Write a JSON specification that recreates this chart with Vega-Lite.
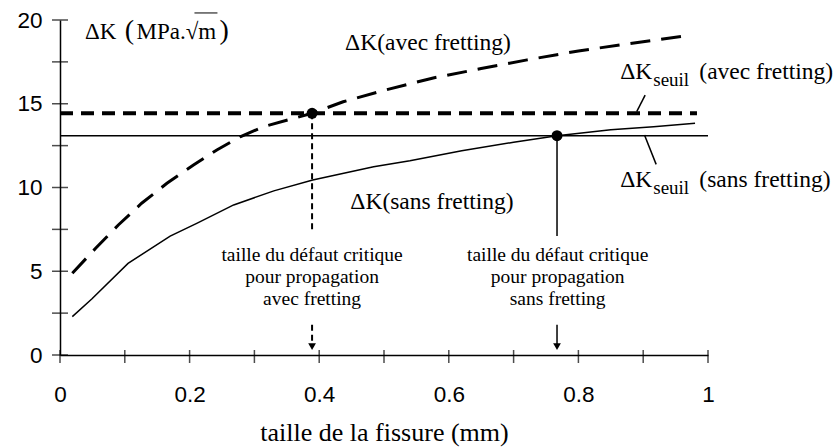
{
  "$schema": "https://vega.github.io/schema/vega-lite/v6.json",
  "width": 648,
  "height": 335,
  "autosize": {"type": "none"},
  "padding": {"left": 60, "top": 20, "right": 126, "bottom": 93},
  "background": "white",
  "config": {"view": {"stroke": null}},
  "datasets": {
    "avec": [
      {"x": 0.019, "y": 4.88}, {"x": 0.055, "y": 6.37}, {"x": 0.09, "y": 7.76}, {"x": 0.126, "y": 9.06},
      {"x": 0.165, "y": 10.25}, {"x": 0.206, "y": 11.34}, {"x": 0.242, "y": 12.24}, {"x": 0.278, "y": 13.03},
      {"x": 0.314, "y": 13.63}, {"x": 0.389, "y": 14.43}, {"x": 0.437, "y": 15.12}, {"x": 0.5, "y": 15.8},
      {"x": 0.576, "y": 16.54}, {"x": 0.65, "y": 17.1}, {"x": 0.721, "y": 17.62}, {"x": 0.8, "y": 18.15},
      {"x": 0.88, "y": 18.6}, {"x": 0.962, "y": 19.04}
    ],
    "sans": [
      {"x": 0.019, "y": 2.29}, {"x": 0.049, "y": 3.34}, {"x": 0.105, "y": 5.47}, {"x": 0.17, "y": 7.1},
      {"x": 0.211, "y": 7.86}, {"x": 0.268, "y": 8.96}, {"x": 0.33, "y": 9.8}, {"x": 0.39, "y": 10.45},
      {"x": 0.484, "y": 11.24}, {"x": 0.54, "y": 11.6}, {"x": 0.62, "y": 12.2}, {"x": 0.7, "y": 12.7},
      {"x": 0.767, "y": 13.09}, {"x": 0.85, "y": 13.45}, {"x": 0.916, "y": 13.63}, {"x": 0.98, "y": 13.83}
    ],
    "seuilAvec": [{"x": 0, "x2": 0.983, "y": 14.43}],
    "seuilSans": [{"x": 0, "x2": 1.0, "y": 13.09}],
    "vDashed": [{"x": 0.389, "y": 14.43, "y2": 7.5}, {"x": 0.389, "y": 1.8, "y2": 0.6}],
    "vSolid": [{"x": 0.767, "y": 13.09, "y2": 7.1}, {"x": 0.767, "y": 1.8, "y2": 0.6}],
    "leaders": [{"x": 0.903, "y": 15.52, "x2": 0.89, "y2": 14.53}, {"x": 0.902, "y": 13.13, "x2": 0.92, "y2": 11.38}],
    "overline": [{"x": 0.2075, "x2": 0.243, "y": 20.42}],
    "dots": [{"x": 0.389, "y": 14.43}, {"x": 0.767, "y": 13.09}],
    "arrows": [{"x": 0.389, "y": 0.5}, {"x": 0.767, "y": 0.5}],
    "xticks": [
      {"x": 0, "y": 0}, {"x": 0.1, "y": 0}, {"x": 0.2, "y": 0}, {"x": 0.3, "y": 0}, {"x": 0.4, "y": 0}, {"x": 0.5, "y": 0},
      {"x": 0.6, "y": 0}, {"x": 0.7, "y": 0}, {"x": 0.8, "y": 0}, {"x": 0.9, "y": 0}, {"x": 1, "y": 0}
    ],
    "yticks": [
      {"x": 0, "y": 0}, {"x": 0, "y": 2.5}, {"x": 0, "y": 5}, {"x": 0, "y": 7.5}, {"x": 0, "y": 10},
      {"x": 0, "y": 12.5}, {"x": 0, "y": 15}, {"x": 0, "y": 17.5}, {"x": 0, "y": 20}
    ],
    "bigText": [
      {"x": 0.44, "y": 18.63, "text": "ΔK(avec fretting)"},
      {"x": 0.448, "y": 9.15, "text": "ΔK(sans fretting)"},
      {"x": 0.8646, "y": 16.91, "text": "ΔK"},
      {"x": 0.9866, "y": 16.91, "text": "(avec fretting)"},
      {"x": 0.8646, "y": 10.45, "text": "ΔK"},
      {"x": 0.9866, "y": 10.45, "text": "(sans fretting)"}
    ],
    "subText": [
      {"x": 0.9155, "y": 16.42, "text": "seuil"},
      {"x": 0.9155, "y": 9.97, "text": "seuil"}
    ],
    "unitText": [
      {"x": 0.0386, "y": 19.28, "text": "ΔK"},
      {"x": 0.118, "y": 19.28, "text": "MPa.√m"}
    ],
    "parenText": [
      {"x": 0.1, "y": 19.34, "text": "("},
      {"x": 0.246, "y": 19.34, "text": ")"}
    ],
    "critText": [
      {"x": 0.389, "y": 5.97, "text": "taille du défaut critique"},
      {"x": 0.389, "y": 4.66, "text": "pour propagation"},
      {"x": 0.389, "y": 3.34, "text": "avec fretting"},
      {"x": 0.768, "y": 5.97, "text": "taille du défaut critique"},
      {"x": 0.768, "y": 4.66, "text": "pour propagation"},
      {"x": 0.768, "y": 3.34, "text": "sans fretting"}
    ]
  },
  "encoding": {
    "x": {
      "field": "x", "type": "quantitative",
      "scale": {"domain": [0, 1], "nice": false, "zero": false},
      "axis": {
        "values": [0, 0.2, 0.4, 0.6, 0.8, 1], "format": "~g", "ticks": false, "tickSize": 0, "grid": false,
        "domainColor": "black", "domainWidth": 1.5, "labelFont": "Arial", "labelFontSize": 22.5,
        "labelColor": "black", "labelPadding": 28, "labelFlush": false, "labelOverlap": false,
        "title": "taille de la fissure (mm)", "titleFont": "Times New Roman", "titleFontSize": 26,
        "titleFontWeight": "normal", "titleColor": "black", "titlePadding": 14
      }
    },
    "y": {
      "field": "y", "type": "quantitative",
      "scale": {"domain": [0, 20], "nice": false, "zero": false},
      "axis": {
        "values": [0, 5, 10, 15, 20], "format": "d", "ticks": false, "tickSize": 0, "grid": false,
        "domainColor": "black", "domainWidth": 1.5, "labelFont": "Arial", "labelFontSize": 22.5,
        "labelColor": "black", "labelPadding": 18, "labelFlush": false, "labelOverlap": false, "title": null
      }
    }
  },
  "layer": [
    {"data": {"name": "xticks"}, "mark": {"type": "tick", "orient": "vertical", "color": "black", "size": 13, "thickness": 1.5, "yOffset": 1.5}, "encoding": {}},
    {"data": {"name": "yticks"}, "mark": {"type": "tick", "orient": "horizontal", "color": "black", "size": 16, "thickness": 1.5}, "encoding": {}},
    {"data": {"name": "seuilSans"}, "mark": {"type": "rule", "color": "black", "strokeWidth": 1.5}, "encoding": {"x2": {"field": "x2"}}},
    {"data": {"name": "seuilAvec"}, "mark": {"type": "rule", "color": "black", "strokeWidth": 4, "strokeDash": [13, 8]}, "encoding": {"x2": {"field": "x2"}}},
    {"data": {"name": "sans"}, "mark": {"type": "line", "color": "black", "strokeWidth": 1.5}, "encoding": {}},
    {"data": {"name": "avec"}, "mark": {"type": "line", "color": "black", "strokeWidth": 3, "strokeDash": [20, 11]}, "encoding": {}},
    {"data": {"name": "vDashed"}, "mark": {"type": "rule", "color": "black", "strokeWidth": 2, "strokeDash": [6, 4]}, "encoding": {"y2": {"field": "y2"}}},
    {"data": {"name": "vSolid"}, "mark": {"type": "rule", "color": "black", "strokeWidth": 1.5}, "encoding": {"y2": {"field": "y2"}}},
    {"data": {"name": "leaders"}, "mark": {"type": "rule", "color": "black", "strokeWidth": 1.5}, "encoding": {"x2": {"field": "x2"}, "y2": {"field": "y2"}}},
    {"data": {"name": "overline"}, "mark": {"type": "rule", "color": "black", "strokeWidth": 1}, "encoding": {"x2": {"field": "x2"}}},
    {"data": {"name": "dots"}, "mark": {"type": "point", "filled": true, "color": "black", "opacity": 1, "size": 120, "shape": "circle"}, "encoding": {}},
    {"data": {"name": "arrows"}, "mark": {"type": "point", "filled": true, "color": "black", "opacity": 1, "size": 60, "shape": "triangle-down"}, "encoding": {}},
    {"data": {"name": "bigText"}, "mark": {"type": "text", "align": "left", "baseline": "middle", "font": "Times New Roman", "fontSize": 23.5, "color": "black"}, "encoding": {"text": {"field": "text"}}},
    {"data": {"name": "subText"}, "mark": {"type": "text", "align": "left", "baseline": "middle", "font": "Times New Roman", "fontSize": 19, "color": "black"}, "encoding": {"text": {"field": "text"}}},
    {"data": {"name": "unitText"}, "mark": {"type": "text", "align": "left", "baseline": "middle", "font": "Times New Roman", "fontSize": 23, "color": "black"}, "encoding": {"text": {"field": "text"}}},
    {"data": {"name": "parenText"}, "mark": {"type": "text", "align": "left", "baseline": "middle", "font": "Times New Roman", "fontSize": 28, "color": "black"}, "encoding": {"text": {"field": "text"}}},
    {"data": {"name": "critText"}, "mark": {"type": "text", "align": "center", "baseline": "middle", "font": "Times New Roman", "fontSize": 19.5, "color": "black"}, "encoding": {"text": {"field": "text"}}}
  ]
}
